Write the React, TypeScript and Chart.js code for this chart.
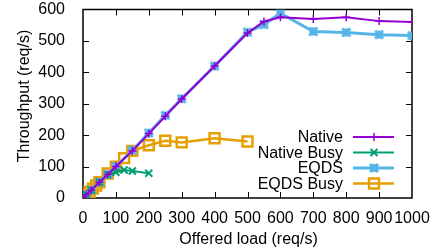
import React, { useEffect, useRef } from "react";
import { Chart, registerables } from "chart.js";

Chart.register(...registerables);

const loads = [0, 10, 25, 50, 75, 100, 150, 200, 250, 300, 400, 500, 550, 600, 700, 800, 900, 1000];
const nativeVals = [0, 10, 25, 50, 75, 100, 150, 205, 260, 315, 420, 525, 562, 575, 570, 575, 563, 560];
const eqdsVals = [0, 10, 25, 50, 75, 100, 152, 207, 263, 316, 420, 528, 552, 588, 530, 527, 520, 517];

const nativeBusyLoads = [0, 10, 25, 50, 75, 100, 125, 150, 200];
const nativeBusyVals = [0, 10, 25, 50, 75, 82, 89, 86, 79];

const eqdsBusyLoads = [0, 10, 20, 30, 40, 50, 75, 100, 125, 150, 200, 250, 300, 400, 500];
const eqdsBusyVals = [0, 10, 20, 30, 40, 50, 78, 100, 127, 150, 168, 182, 177, 190, 180];

const seriesNames = ["Native", "Native Busy", "EQDS", "EQDS Busy"];
const xTitle = "Offered load (req/s)";
const yTitle = "Throughput (req/s)";

const FAMILY = "'Liberation Sans', Arial, sans-serif";
const FONT = "16px " + FAMILY;

function pts(xs: number[], ys: number[]) {
  return xs.map((x, i) => ({ x, y: ys[i] }));
}

function drawMarker(ctx: CanvasRenderingContext2D, style: string, x: number, y: number, r: number, color: string, lw: number) {
  ctx.save();
  ctx.strokeStyle = color;
  ctx.lineWidth = lw;
  ctx.beginPath();
  if (style === "cross") {
    ctx.moveTo(x - r, y); ctx.lineTo(x + r, y);
    ctx.moveTo(x, y - r); ctx.lineTo(x, y + r);
  } else if (style === "crossRot") {
    const d = r * 0.7071;
    ctx.moveTo(x - d, y - d); ctx.lineTo(x + d, y + d);
    ctx.moveTo(x - d, y + d); ctx.lineTo(x + d, y - d);
  } else if (style === "star") {
    ctx.moveTo(x - r, y); ctx.lineTo(x + r, y);
    ctx.moveTo(x, y - r); ctx.lineTo(x, y + r);
    ctx.moveTo(x - r, y - r); ctx.lineTo(x + r, y + r);
    ctx.moveTo(x - r, y + r); ctx.lineTo(x + r, y - r);
  } else if (style === "rect") {
    const s = r / Math.SQRT2;
    ctx.rect(x - s, y - s, 2 * s, 2 * s);
  }
  ctx.stroke();
  ctx.restore();
}

function makeStar(r: number, color: string, lw: number) {
  const c = document.createElement("canvas");
  const size = Math.ceil(2 * r + lw + 2);
  c.width = size;
  c.height = size;
  const ctx = c.getContext("2d")!;
  drawMarker(ctx, "star", size / 2, size / 2, r, color, lw);
  return c;
}

const framePlugin = {
  id: "frame",
  beforeDatasetsDraw(chart: any) {
    const { ctx, chartArea: a } = chart;
    ctx.save();
    ctx.strokeStyle = "#000";
    ctx.lineWidth = 1;
    const tl = 6;
    ctx.beginPath();
    const xs = chart.scales.x;
    const ys = chart.scales.y;
    for (let v = 100; v < 1000; v += 100) {
      const px = Math.round(xs.getPixelForValue(v)) + 0.5;
      ctx.moveTo(px, a.bottom); ctx.lineTo(px, a.bottom - tl);
      ctx.moveTo(px, a.top); ctx.lineTo(px, a.top + tl);
    }
    for (let v = 100; v < 600; v += 100) {
      const py = Math.round(ys.getPixelForValue(v)) + 0.5;
      ctx.moveTo(a.left, py); ctx.lineTo(a.left + tl, py);
      ctx.moveTo(a.right, py); ctx.lineTo(a.right - tl, py);
    }
    ctx.stroke();
    ctx.lineWidth = 1.5;
    ctx.strokeRect(a.left, a.top, a.right - a.left, a.bottom - a.top);
    ctx.restore();
  },
  afterDraw(chart: any) {
    const { ctx, chartArea: a } = chart;
    ctx.save();
    ctx.fillStyle = "#000";
    ctx.font = FONT;
    ctx.textAlign = "center";
    ctx.textBaseline = "middle";
    ctx.fillText(xTitle, (a.left + a.right) / 2 + 1, 240);
    ctx.save();
    ctx.translate(25, 96);
    ctx.rotate(-Math.PI / 2);
    ctx.fillText(yTitle, 0, 0);
    ctx.restore();
    const rows = [137, 152.5, 168, 183.5];
    const styles = ["cross", "crossRot", "star", "rect"];
    const radii = [4, 5, 4, 7];
    chart.data.datasets.forEach((ds: any, i: number) => {
      const y = rows[i];
      ctx.textAlign = "right";
      ctx.fillStyle = "#000";
      ctx.fillText(ds.label, 343, y + 1);
      ctx.strokeStyle = ds.borderColor;
      ctx.lineWidth = ds.borderWidth;
      ctx.beginPath();
      ctx.moveTo(353, y); ctx.lineTo(394, y);
      ctx.stroke();
      drawMarker(ctx, styles[i], 374, y, radii[i], ds.borderColor, ds.pointBorderWidth);
    });
    ctx.restore();
  },
};

export default function App() {
  const ref = useRef<HTMLCanvasElement>(null);
  useEffect(() => {
    document.body.style.margin = "0";
    const canvas = ref.current!;
    const star = makeStar(4, "#56b4e9", 3);
    const tickFont = { family: FAMILY, size: 16, lineHeight: 1.125 };
    const chart = new Chart(canvas, {
      type: "line",
      data: {
        datasets: [
          {
            label: seriesNames[0],
            data: pts(loads, nativeVals),
            borderColor: "#9400d3",
            backgroundColor: "transparent",
            borderWidth: 2,
            pointStyle: "cross",
            pointRadius: 4,
            pointBorderWidth: 1.5,
            pointBorderColor: "#9400d3",
          },
          {
            label: seriesNames[1],
            data: pts(nativeBusyLoads, nativeBusyVals),
            borderColor: "#009e73",
            backgroundColor: "transparent",
            borderWidth: 2,
            pointStyle: "crossRot",
            pointRadius: 5,
            pointBorderWidth: 2,
            pointBorderColor: "#009e73",
          },
          {
            label: seriesNames[2],
            data: pts(loads, eqdsVals),
            borderColor: "#56b4e9",
            backgroundColor: "transparent",
            borderWidth: 3,
            pointStyle: star,
            pointRadius: 5,
            pointBorderWidth: 3,
            pointBorderColor: "#56b4e9",
          },
          {
            label: seriesNames[3],
            data: pts(eqdsBusyLoads, eqdsBusyVals),
            borderColor: "#e69f00",
            backgroundColor: "transparent",
            borderWidth: 2.5,
            pointStyle: "rect",
            pointRadius: 7,
            pointBorderWidth: 2.5,
            pointBorderColor: "#e69f00",
            pointBackgroundColor: "transparent",
          },
        ] as any,
      },
      plugins: [framePlugin],
      options: {
        responsive: false,
        animation: false,
        layout: { padding: { top: 9, right: 30, left: 0, bottom: 0 } },
        plugins: { legend: { display: false }, tooltip: { enabled: false } },
        elements: { line: { tension: 0 } },
        scales: {
          x: {
            type: "linear",
            min: 0,
            max: 1000,
            grid: { display: false },
            border: { display: false },
            ticks: {
              stepSize: 100,
              color: "#000",
              padding: 4,
              maxRotation: 0,
              autoSkip: false,
              font: tickFont,
              callback: (v: any) => String(v),
            },
            afterFit(s: any) { s.height = 54; s.paddingLeft = 0; s.paddingRight = 0; },
          },
          y: {
            type: "linear",
            min: 0,
            max: 600,
            grid: { display: false },
            border: { display: false },
            ticks: {
              stepSize: 100,
              color: "#000",
              padding: 10,
              font: tickFont,
              callback: (v: any) => String(v),
            },
            afterFit(s: any) { s.width = 83; s.paddingTop = 0; s.paddingBottom = 0; },
          },
        },
      } as any,
    });
    return () => chart.destroy();
  }, []);
  return <canvas ref={ref} width={442} height={252} />;
}
